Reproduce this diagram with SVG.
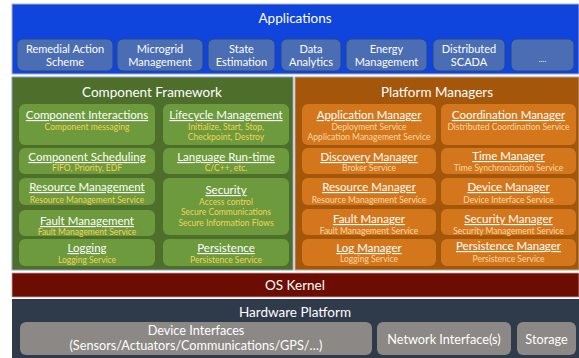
<svg xmlns="http://www.w3.org/2000/svg" width="579" height="358" viewBox="0 0 579 358">
<style>
text{font-family:Lato,"Open Sans","Liberation Sans",sans-serif;text-anchor:middle;fill:#ffffff}
.h{font-size:13.5px}
.app{fill:#4a6db4;stroke:#27468f;stroke-width:1}
.at{font-size:11px}
.gbox{fill:#6c9a3c}
.obox{fill:#d4771c}
.t{font-size:11.5px;text-decoration:underline}
.gs{font-size:8.5px;fill:#f3d35a}
.os{font-size:8.5px;fill:#fbd9a6}
.hw{fill:#8b8886}
.ht{font-size:12.7px}
</style>
<rect x="0" y="0" width="579" height="358" fill="#ffffff"/>
<g id="applications">
<rect x="12" y="4" width="567" height="70" fill="#0f45dc" stroke="#a9b4c8" stroke-width="1"/>
<text class="h" x="295" y="23">Applications</text>
</g>
<g id="app-remedial"><rect class="app" x="17" y="39" width="96" height="32" rx="6"/><text class="at" x="65" y="53">Remedial Action</text><text class="at" x="65" y="66">Scheme</text></g>
<g id="app-microgrid"><rect class="app" x="117" y="39" width="86" height="32" rx="6"/><text class="at" x="160" y="53">Microgrid</text><text class="at" x="160" y="66">Management</text></g>
<g id="app-state"><rect class="app" x="208" y="39" width="67" height="32" rx="6"/><text class="at" x="241.5" y="53">State</text><text class="at" x="241.5" y="66">Estimation</text></g>
<g id="app-data"><rect class="app" x="281" y="39" width="60" height="32" rx="6"/><text class="at" x="311" y="53">Data</text><text class="at" x="311" y="66">Analytics</text></g>
<g id="app-energy"><rect class="app" x="346" y="39" width="81" height="32" rx="6"/><text class="at" x="386.5" y="53">Energy</text><text class="at" x="386.5" y="66">Management</text></g>
<g id="app-scada"><rect class="app" x="433" y="39" width="72" height="32" rx="6"/><text class="at" x="469" y="53">Distributed</text><text class="at" x="469" y="66">SCADA</text></g>
<g id="app-more"><rect class="app" x="511" y="39" width="63" height="32" rx="6"/><text class="at" x="542.5" y="62" style="font-size:8px">....</text></g>

<g id="component-framework">
<rect x="12" y="77" width="281" height="193" fill="#4e6e2b" stroke="#8aa0b8" stroke-width="1"/>
<text class="h" x="152" y="97">Component Framework</text>
</g>
<g id="cf-interactions"><rect class="gbox" x="19" y="104" width="136" height="41" rx="6"/><text class="t" x="87" y="119">Component Interactions</text><text class="gs" x="87" y="130">Component messaging</text></g>
<g id="cf-lifecycle"><rect class="gbox" x="163" y="104" width="126" height="41" rx="6"/><text class="t" x="226" y="119">Lifecycle Management</text><text class="gs" x="226" y="130">Initialize, Start, Stop,</text><text class="gs" x="226" y="140">Checkpoint, Destroy</text></g>
<g id="cf-scheduling"><rect class="gbox" x="19" y="148" width="136" height="26" rx="6"/><text class="t" x="87" y="161">Component Scheduling</text><text class="gs" x="87" y="171">FIFO, Priority, EDF</text></g>
<g id="cf-runtime"><rect class="gbox" x="163" y="148" width="126" height="26" rx="6"/><text class="t" x="226" y="161">Language Run-time</text><text class="gs" x="226" y="171">C/C++, etc.</text></g>
<g id="cf-resource"><rect class="gbox" x="19" y="178" width="136" height="27" rx="6"/><text class="t" x="87" y="191">Resource Management</text><text class="gs" x="87" y="203">Resource Management Service</text></g>
<g id="cf-security"><rect class="gbox" x="163" y="178" width="126" height="57" rx="6"/><text class="t" x="226" y="194">Security</text><text class="gs" x="226" y="205">Access control</text><text class="gs" x="226" y="215">Secure Communications</text><text class="gs" x="226" y="226">Secure Information Flows</text></g>
<g id="cf-fault"><rect class="gbox" x="19" y="210" width="136" height="26" rx="6"/><text class="t" x="87" y="225">Fault Management</text><text class="gs" x="87" y="235">Fault Management Service</text></g>
<g id="cf-logging"><rect class="gbox" x="19" y="239" width="136" height="27" rx="6"/><text class="t" x="87" y="252">Logging</text><text class="gs" x="87" y="263">Logging Service</text></g>
<g id="cf-persistence"><rect class="gbox" x="163" y="239" width="126" height="27" rx="6"/><text class="t" x="226" y="252">Persistence</text><text class="gs" x="226" y="263">Persistence Service</text></g>

<g id="platform-managers">
<rect x="295" y="77" width="284" height="193" fill="#a4570b" stroke="#b8a898" stroke-width="1"/>
<text class="h" x="437" y="97">Platform Managers</text>
</g>
<g id="pm-application"><rect class="obox" x="302" y="104" width="134" height="41" rx="6"/><text class="t" x="369" y="119">Application Manager</text><text class="os" x="369" y="130">Deployment Service</text><text class="os" x="369" y="140">Application Management Service</text></g>
<g id="pm-coordination"><rect class="obox" x="441" y="104" width="135" height="41" rx="6"/><text class="t" x="508.5" y="119">Coordination Manager</text><text class="os" x="508.5" y="130">Distributed Coordination Service</text></g>
<g id="pm-discovery"><rect class="obox" x="302" y="148" width="134" height="26" rx="6"/><text class="t" x="369" y="161">Discovery Manager</text><text class="os" x="369" y="171">Broker Service</text></g>
<g id="pm-time"><rect class="obox" x="441" y="148" width="135" height="26" rx="6"/><text class="t" x="508.5" y="160">Time Manager</text><text class="os" x="508.5" y="171">Time Synchronization Service</text></g>
<g id="pm-resource"><rect class="obox" x="302" y="178" width="134" height="27" rx="6"/><text class="t" x="369" y="191">Resource Manager</text><text class="os" x="369" y="203">Resource Management Service</text></g>
<g id="pm-device"><rect class="obox" x="441" y="178" width="135" height="27" rx="6"/><text class="t" x="508.5" y="191">Device Manager</text><text class="os" x="508.5" y="203">Device Interface Service</text></g>
<g id="pm-fault"><rect class="obox" x="302" y="209" width="134" height="26" rx="6"/><text class="t" x="369" y="223">Fault Manager</text><text class="os" x="369" y="234">Fault Management Service</text></g>
<g id="pm-security"><rect class="obox" x="441" y="209" width="135" height="26" rx="6"/><text class="t" x="508.5" y="223">Security Manager</text><text class="os" x="508.5" y="234">Security Management Service</text></g>
<g id="pm-log"><rect class="obox" x="302" y="239" width="134" height="27" rx="6"/><text class="t" x="369" y="252">Log Manager</text><text class="os" x="369" y="262">Logging Service</text></g>
<g id="pm-persistence"><rect class="obox" x="441" y="239" width="135" height="27" rx="6"/><text class="t" x="508.5" y="250">Persistence Manager</text><text class="os" x="508.5" y="262">Persistence Service</text></g>

<g id="os-kernel">
<rect x="12" y="273" width="567" height="24" fill="#6c0d02" stroke="#c8a0a0" stroke-width="0.8"/>
<text class="h" x="295" y="290">OS Kernel</text>
</g>
<g id="hardware-platform">
<rect x="12" y="299" width="567" height="59" fill="#2f3a4b"/>
<text class="h" x="295" y="317">Hardware Platform</text>
</g>
<g id="hw-device"><rect class="hw" x="20" y="322" width="352" height="33" rx="6"/><text class="ht" x="196" y="335">Device Interfaces</text><text class="ht" x="196" y="350">(Sensors/Actuators/Communications/GPS/…)</text></g>
<g id="hw-network"><rect class="hw" x="377" y="322" width="134" height="33" rx="6"/><text class="ht" x="444" y="344">Network Interface(s)</text></g>
<g id="hw-storage"><rect class="hw" x="517" y="322" width="59" height="33" rx="6"/><text class="ht" x="546.5" y="344">Storage</text></g>
<g id="connectors"/>
</svg>
